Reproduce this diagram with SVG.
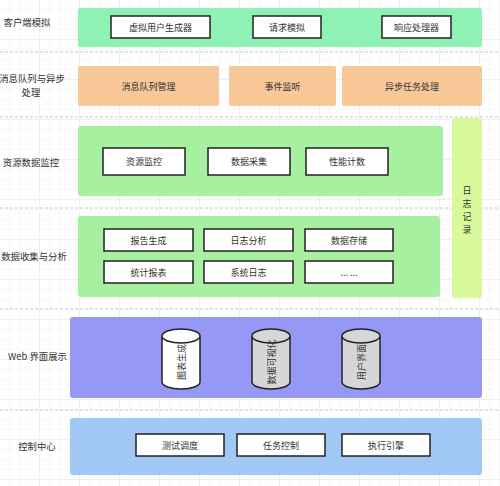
<svg xmlns="http://www.w3.org/2000/svg" width="500" height="486" viewBox="0 0 500 486">
<defs>
<pattern id="g" width="10" height="10" patternUnits="userSpaceOnUse"><path d="M10 0V10H0" fill="none" stroke="#f1f1f1" stroke-width="1"/></pattern>
<pattern id="G" width="40" height="40" patternUnits="userSpaceOnUse"><path d="M40 0V40H0" fill="none" stroke="#e6e6e6" stroke-width="1"/></pattern>
</defs>
<style>
text{font-family:"Noto Sans CJK SC","Liberation Sans",sans-serif;font-size:9px;fill:#333;text-anchor:middle;dominant-baseline:central}
.lbl{font-size:9.4px}
.sep{stroke:#c8c8c8;stroke-width:1;stroke-dasharray:3 2}
.box{fill:#fff;stroke:#222;stroke-width:1.5}
.cyl{stroke:#222;stroke-width:1.5}
</style>
<rect width="500" height="486" fill="#fff"/>
<rect width="500" height="486" fill="url(#g)"/>
<rect width="500" height="486" fill="url(#G)"/>
<g id="separators">
<line class="sep" x1="0" y1="52" x2="500" y2="52"/>
<line class="sep" x1="0" y1="117" x2="500" y2="117"/>
<line class="sep" x1="0" y1="208" x2="500" y2="208"/>
<line class="sep" x1="0" y1="309" x2="500" y2="309"/>
<line class="sep" x1="0" y1="410" x2="500" y2="410"/>
</g>
<g id="labels">
<text class="lbl" x="27" y="22">客户端模拟</text>
<text class="lbl" x="32" y="78">消息队列与异步</text>
<text class="lbl" x="31" y="92">处理</text>
<text class="lbl" x="31" y="162">资源数据监控</text>
<text class="lbl" x="34" y="256">数据收集与分析</text>
<text class="lbl" x="37.5" y="356">Web 界面展示</text>
<text class="lbl" x="37" y="446">控制中心</text>
</g>
<g id="client">
<rect x="78" y="8" width="404" height="39" rx="2" fill="#8ef2b4"/>
<g id="n1"><rect class="box" x="111" y="16" width="99" height="22"/><text x="160.5" y="27">虚拟用户生成器</text></g>
<g id="n2"><rect class="box" x="253" y="16" width="68" height="22"/><text x="287" y="27">请求模拟</text></g>
<g id="n3"><rect class="box" x="382" y="16" width="69" height="22"/><text x="416.5" y="27">响应处理器</text></g>
</g>
<g id="mq">
<g id="n4"><rect x="78" y="66" width="141" height="40" rx="2" fill="#f8c898"/><text x="148.5" y="86">消息队列管理</text></g>
<g id="n5"><rect x="229" y="66" width="107" height="40" rx="2" fill="#f8c898"/><text x="282.5" y="86">事件监听</text></g>
<g id="n6"><rect x="342" y="66" width="140" height="40" rx="2" fill="#f8c898"/><text x="412" y="86">异步任务处理</text></g>
</g>
<g id="log"><rect x="452" y="118" width="30" height="180" rx="2" fill="#d8fa9c"/>
<text x="467" y="190">日</text><text x="467" y="203">志</text><text x="467" y="216">记</text><text x="467" y="229">录</text></g>
<g id="resource">
<rect x="78" y="126" width="365" height="70" rx="3" fill="#a6f0a0"/>
<g id="n7"><rect class="box" x="103" y="148" width="82" height="27"/><text x="144" y="161.5">资源监控</text></g>
<g id="n8"><rect class="box" x="208" y="148" width="82" height="27"/><text x="249" y="161.5">数据采集</text></g>
<g id="n9"><rect class="box" x="306" y="148" width="82" height="27"/><text x="347" y="161.5">性能计数</text></g>
</g>
<g id="analysis">
<rect x="78" y="216" width="362" height="81" rx="3" fill="#a6f0a0"/>
<g id="n10"><rect class="box" x="104" y="229" width="89" height="22"/><text x="148.5" y="240">报告生成</text></g>
<g id="n11"><rect class="box" x="204" y="229" width="89" height="22"/><text x="248.5" y="240">日志分析</text></g>
<g id="n12"><rect class="box" x="305" y="229" width="88" height="22"/><text x="349" y="240">数据存储</text></g>
<g id="n13"><rect class="box" x="104" y="261" width="89" height="22"/><text x="148.5" y="272">统计报表</text></g>
<g id="n14"><rect class="box" x="204" y="261" width="89" height="22"/><text x="248.5" y="272">系统日志</text></g>
<g id="n15"><rect class="box" x="305" y="261" width="88" height="22"/><text x="349" y="272">... ...</text></g>
</g>
<g id="web">
<rect x="70" y="317" width="412" height="81" rx="3" fill="#9598f4"/>
<g id="n16"><path class="cyl" fill="#fff" d="M162 336V382A19 7 0 0 0 200 382V336A19 7 0 0 0 162 336A19 7 0 0 0 200 336"/><text transform="translate(181 362) rotate(-90)">图表生成</text></g>
<g id="n17"><path class="cyl" fill="#d6d6d6" d="M252 336V382A19 7 0 0 0 290 382V336A19 7 0 0 0 252 336A19 7 0 0 0 290 336"/><text transform="translate(271 362) rotate(-90)">数据可视化</text></g>
<g id="n18"><path class="cyl" fill="#d6d6d6" d="M342 336V382A19 7 0 0 0 380 382V336A19 7 0 0 0 342 336A19 7 0 0 0 380 336"/><text transform="translate(361 362) rotate(-90)">用户界面</text></g>
</g>
<g id="control">
<rect x="70" y="418" width="412" height="57" rx="3" fill="#a2c8f6"/>
<g id="n19"><rect class="box" x="136" y="434" width="88" height="22"/><text x="180" y="445">测试调度</text></g>
<g id="n20"><rect class="box" x="237" y="434" width="88" height="22"/><text x="281" y="445">任务控制</text></g>
<g id="n21"><rect class="box" x="342" y="434" width="88" height="22"/><text x="386" y="445">执行引擎</text></g>
</g>
</svg>
